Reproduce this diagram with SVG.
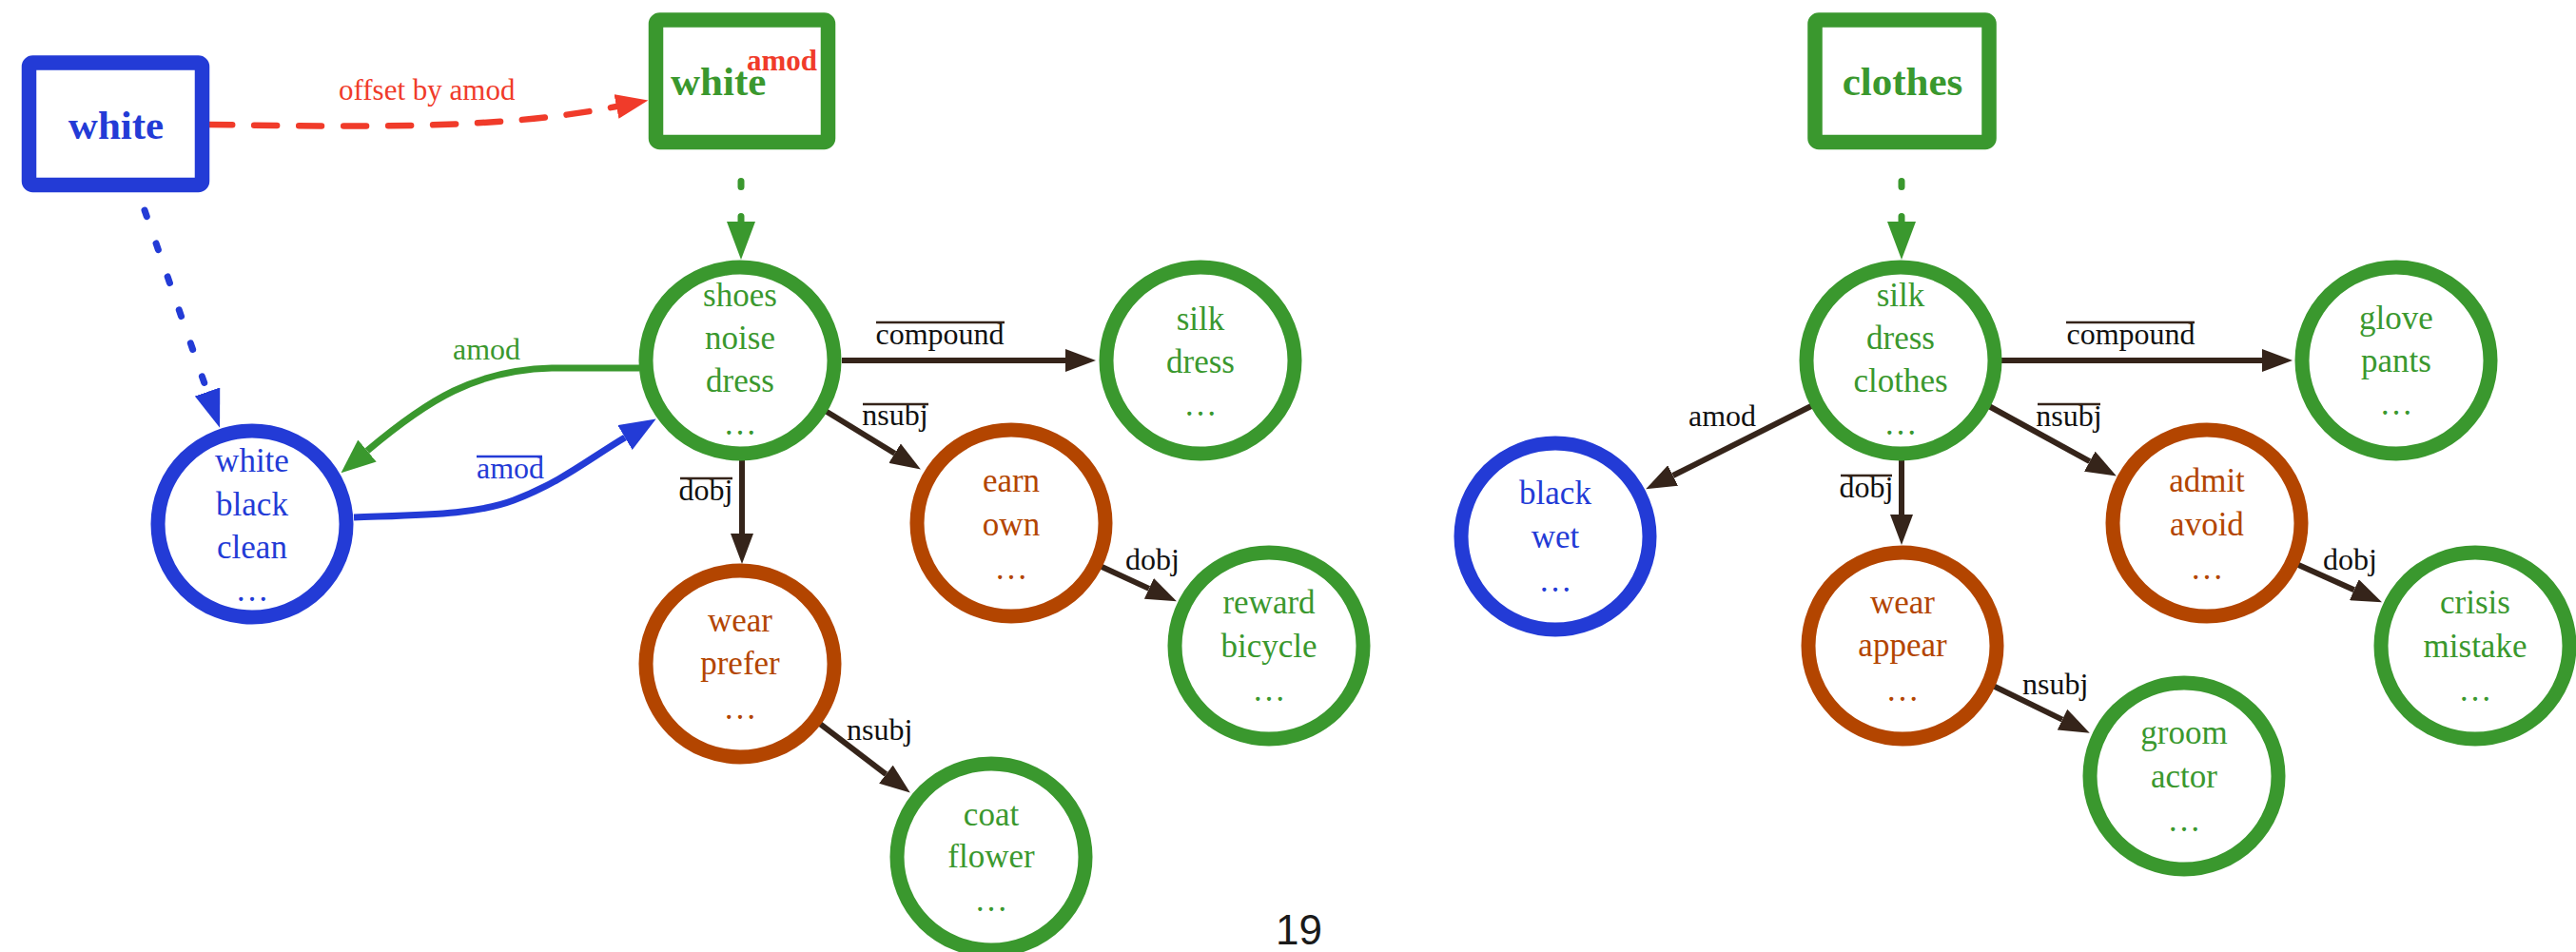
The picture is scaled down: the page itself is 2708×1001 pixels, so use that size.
<svg xmlns="http://www.w3.org/2000/svg" width="2708" height="1001" viewBox="0 0 2708 1001">
  <style>
    text { font-family: "Liberation Serif", "Times New Roman", serif; }
    .box { fill: #ffffff; stroke-width: 15.5; }
    .node { fill: #ffffff; stroke-width: 15; }
    .g { stroke: #3a982e; }
    .b { stroke: #233bd6; }
    .o { stroke: #b34500; }
    .tg { fill: #3a982e; }
    .tb { fill: #233bd6; }
    .to { fill: #b34500; }
    .nt { font-size: 35px; text-anchor: middle; }
    .bt { font-size: 43px; font-weight: bold; }
    .lbl { font-size: 32px; fill: #111111; }
    .edge { fill: none; stroke: #35241a; stroke-width: 6; }
    .ov { stroke: #35241a; stroke-width: 2.5; }
  </style>
  <defs>
    <marker id="ah-brown" markerUnits="userSpaceOnUse" markerWidth="32" markerHeight="24" refX="0" refY="12" orient="auto" viewBox="0 0 32 24">
      <path d="M0,0 L32,12 L0,24 z" fill="#35241a"/>
    </marker>
    <marker id="ah-green" markerUnits="userSpaceOnUse" markerWidth="40" markerHeight="30" refX="0" refY="15" orient="auto" viewBox="0 0 40 30">
      <path d="M0,0 L40,15 L0,30 z" fill="#3a982e"/>
    </marker>
    <marker id="ah-green2" markerUnits="userSpaceOnUse" markerWidth="36" markerHeight="30" refX="0" refY="15" orient="auto" viewBox="0 0 36 30">
      <path d="M0,0 L36,15 L0,30 z" fill="#3a982e"/>
    </marker>
    <marker id="ah-blue" markerUnits="userSpaceOnUse" markerWidth="40" markerHeight="28" refX="0" refY="14" orient="auto" viewBox="0 0 40 28">
      <path d="M0,0 L40,14 L0,28 z" fill="#233bd6"/>
    </marker>
    <marker id="ah-blue2" markerUnits="userSpaceOnUse" markerWidth="38" markerHeight="30" refX="0" refY="15" orient="auto" viewBox="0 0 38 30">
      <path d="M0,0 L38,15 L0,30 z" fill="#233bd6"/>
    </marker>
    <marker id="ah-red" markerUnits="userSpaceOnUse" markerWidth="34" markerHeight="26" refX="0" refY="13" orient="auto" viewBox="0 0 34 26">
      <path d="M0,0 L34,13 L0,26 z" fill="#f03b2a"/>
    </marker>
  </defs>

  <!-- connectors -->
  <g id="connectors">
    <!-- offset: white -> white^amod -->
    <path d="M220 131 C 380 133, 520 137, 648 112" fill="none" stroke="#f03b2a" stroke-width="6.5" stroke-linecap="round" stroke-dasharray="24 23" marker-end="url(#ah-red)"/>
    <text x="356" y="105" style="font-size:31px" fill="#f03b2a">offset by amod</text>

    <!-- white box -> white/black/clean -->
    <path d="M152 221 L 218 412" fill="none" stroke="#233bd6" stroke-width="7" stroke-linecap="round" stroke-dasharray="7 30" marker-end="url(#ah-blue)"/>

    <!-- white^amod -> shoes, clothes -> silk -->
    <path d="M779 190.5 L 779 233" fill="none" stroke="#3a982e" stroke-width="7" stroke-linecap="round" stroke-dasharray="6 31"/>
    <path d="M779 232 L 779 233" fill="none" stroke="none" marker-end="url(#ah-green)"/>
    <path d="M1999 190.5 L 1999 233" fill="none" stroke="#3a982e" stroke-width="7" stroke-linecap="round" stroke-dasharray="6 31"/>
    <path d="M1999 232 L 1999 233" fill="none" stroke="none" marker-end="url(#ah-green)"/>

    <!-- amod: shoes -> white/black/clean -->
    <path d="M672 387 L 580 387 C 500 389, 450 420, 386 474" fill="none" stroke="#3a982e" stroke-width="7" marker-end="url(#ah-green2)"/>
    <text x="476" y="378" class="lbl" style="fill:#3a982e">amod</text>

    <!-- amod (inverse): white/black/clean -> shoes -->
    <path d="M372 544 C 450 541, 500 541, 540 526 C 590 507, 620 482, 657 460" fill="none" stroke="#233bd6" stroke-width="7" marker-end="url(#ah-blue2)"/>
    <text x="501" y="503" class="lbl" style="fill:#233bd6">amod</text>
    <line x1="501" y1="480" x2="570" y2="480" stroke="#233bd6" stroke-width="2.5"/>

    <!-- left tree -->
    <line class="edge" x1="885" y1="379" x2="1120" y2="379" marker-end="url(#ah-brown)"/>
    <text x="988" y="362" class="lbl" text-anchor="middle">compound</text>
    <line class="ov" x1="921" y1="339" x2="1056" y2="339"/>

    <line class="edge" x1="866" y1="431" x2="940.6" y2="476.7" marker-end="url(#ah-brown)"/>
    <text x="941" y="447" class="lbl" text-anchor="middle">nsubj</text>
    <line class="ov" x1="907" y1="425" x2="976" y2="425"/>

    <line class="edge" x1="780" y1="482" x2="780" y2="561" marker-end="url(#ah-brown)"/>
    <text x="742" y="526" class="lbl" text-anchor="middle">dobj</text>
    <line class="ov" x1="715" y1="503" x2="770" y2="503"/>

    <line class="edge" x1="858" y1="758" x2="931.4" y2="814.1" marker-end="url(#ah-brown)"/>
    <text x="890" y="778" class="lbl">nsubj</text>

    <line class="edge" x1="1154" y1="594" x2="1207.9" y2="618.9" marker-end="url(#ah-brown)"/>
    <text x="1183" y="599" class="lbl">dobj</text>

    <!-- right tree -->
    <line class="edge" x1="2104" y1="379" x2="2378" y2="379" marker-end="url(#ah-brown)"/>
    <text x="2240" y="362" class="lbl" text-anchor="middle">compound</text>
    <line class="ov" x1="2172" y1="339" x2="2307" y2="339"/>

    <line class="edge" x1="1906" y1="426" x2="1758.7" y2="500" marker-end="url(#ah-brown)"/>
    <text x="1775" y="448" class="lbl">amod</text>

    <line class="edge" x1="2089" y1="426" x2="2196.8" y2="485.2" marker-end="url(#ah-brown)"/>
    <text x="2175" y="448" class="lbl" text-anchor="middle">nsubj</text>
    <line class="ov" x1="2142" y1="425" x2="2208" y2="425"/>

    <line class="edge" x1="1999" y1="482" x2="1999" y2="541" marker-end="url(#ah-brown)"/>
    <text x="1962" y="523" class="lbl" text-anchor="middle">dobj</text>
    <line class="ov" x1="1935" y1="500" x2="1989" y2="500"/>

    <line class="edge" x1="2414" y1="593" x2="2474.8" y2="620.2" marker-end="url(#ah-brown)"/>
    <text x="2442" y="599" class="lbl">dobj</text>

    <line class="edge" x1="2093" y1="720" x2="2168" y2="756.6" marker-end="url(#ah-brown)"/>
    <text x="2126" y="730" class="lbl">nsubj</text>
  </g>

  <!-- word boxes -->
  <g id="box-white">
    <rect class="box b" x="30.5" y="66" width="182" height="128.5" rx="4"/>
    <text x="122" y="146" class="bt tb" text-anchor="middle">white</text>
  </g>
  <g id="box-white-amod">
    <rect class="box g" x="689.5" y="21" width="181" height="128.5" rx="4"/>
    <text x="705" y="100" class="bt tg">white</text>
    <text x="785" y="74" style="font-size:31px;font-weight:bold" fill="#f03b2a">amod</text>
  </g>
  <g id="box-clothes">
    <rect class="box g" x="1908" y="21" width="183" height="128.5" rx="4"/>
    <text x="2000" y="100" class="bt tg" text-anchor="middle">clothes</text>
  </g>

  <!-- left tree nodes -->
  <g id="node-shoes">
    <ellipse class="node g" cx="778" cy="379" rx="99" ry="98"/>
    <text class="nt tg" x="778" y="322">shoes</text>
    <text class="nt tg" x="778" y="367">noise</text>
    <text class="nt tg" x="778" y="412">dress</text>
    <text class="nt tg" x="778" y="457">…</text>
  </g>
  <g id="node-silk-dress">
    <ellipse class="node g" cx="1262" cy="379" rx="99" ry="98"/>
    <text class="nt tg" x="1262" y="347">silk</text>
    <text class="nt tg" x="1262" y="392">dress</text>
    <text class="nt tg" x="1262" y="437">…</text>
  </g>
  <g id="node-white-black">
    <ellipse class="node b" cx="265" cy="551" rx="99" ry="98"/>
    <text class="nt tb" x="265" y="496">white</text>
    <text class="nt tb" x="265" y="542">black</text>
    <text class="nt tb" x="265" y="587">clean</text>
    <text class="nt tb" x="265" y="632">…</text>
  </g>
  <g id="node-earn">
    <ellipse class="node o" cx="1063" cy="550" rx="99" ry="98"/>
    <text class="nt to" x="1063" y="517">earn</text>
    <text class="nt to" x="1063" y="563">own</text>
    <text class="nt to" x="1063" y="609">…</text>
  </g>
  <g id="node-wear-prefer">
    <ellipse class="node o" cx="778" cy="698" rx="99" ry="98"/>
    <text class="nt to" x="778" y="664">wear</text>
    <text class="nt to" x="778" y="709">prefer</text>
    <text class="nt to" x="778" y="756">…</text>
  </g>
  <g id="node-reward">
    <ellipse class="node g" cx="1334" cy="679" rx="99" ry="98"/>
    <text class="nt tg" x="1334" y="645">reward</text>
    <text class="nt tg" x="1334" y="691">bicycle</text>
    <text class="nt tg" x="1334" y="737">…</text>
  </g>
  <g id="node-coat">
    <ellipse class="node g" cx="1042" cy="901" rx="99" ry="98"/>
    <text class="nt tg" x="1042" y="868">coat</text>
    <text class="nt tg" x="1042" y="912">flower</text>
    <text class="nt tg" x="1042" y="958">…</text>
  </g>

  <!-- right tree nodes -->
  <g id="node-silk-clothes">
    <ellipse class="node g" cx="1998" cy="379" rx="99" ry="98"/>
    <text class="nt tg" x="1998" y="322">silk</text>
    <text class="nt tg" x="1998" y="367">dress</text>
    <text class="nt tg" x="1998" y="412">clothes</text>
    <text class="nt tg" x="1998" y="457">…</text>
  </g>
  <g id="node-glove">
    <ellipse class="node g" cx="2519" cy="379" rx="99" ry="98"/>
    <text class="nt tg" x="2519" y="346">glove</text>
    <text class="nt tg" x="2519" y="391">pants</text>
    <text class="nt tg" x="2519" y="436">…</text>
  </g>
  <g id="node-black-wet">
    <ellipse class="node b" cx="1635" cy="564" rx="99" ry="98"/>
    <text class="nt tb" x="1635" y="530">black</text>
    <text class="nt tb" x="1635" y="576">wet</text>
    <text class="nt tb" x="1635" y="622">…</text>
  </g>
  <g id="node-wear-appear">
    <ellipse class="node o" cx="2000" cy="679" rx="99" ry="98"/>
    <text class="nt to" x="2000" y="645">wear</text>
    <text class="nt to" x="2000" y="690">appear</text>
    <text class="nt to" x="2000" y="737">…</text>
  </g>
  <g id="node-admit">
    <ellipse class="node o" cx="2320" cy="550" rx="99" ry="98"/>
    <text class="nt to" x="2320" y="517">admit</text>
    <text class="nt to" x="2320" y="563">avoid</text>
    <text class="nt to" x="2320" y="609">…</text>
  </g>
  <g id="node-crisis">
    <ellipse class="node g" cx="2602" cy="679" rx="99" ry="98"/>
    <text class="nt tg" x="2602" y="645">crisis</text>
    <text class="nt tg" x="2602" y="691">mistake</text>
    <text class="nt tg" x="2602" y="737">…</text>
  </g>
  <g id="node-groom">
    <ellipse class="node g" cx="2296" cy="816" rx="99" ry="98"/>
    <text class="nt tg" x="2296" y="782">groom</text>
    <text class="nt tg" x="2296" y="828">actor</text>
    <text class="nt tg" x="2296" y="874">…</text>
  </g>

  <!-- page number -->
  <text x="1341" y="993" style="font-family:'Liberation Sans', Arial, sans-serif;font-size:44px" fill="#1a1a1a">19</text>
</svg>
